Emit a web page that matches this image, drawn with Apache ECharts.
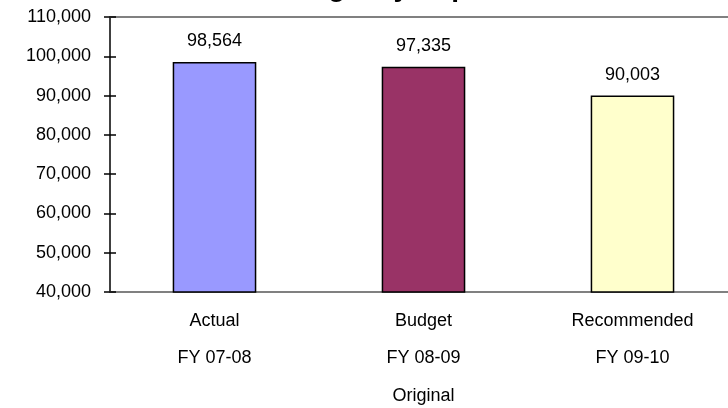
<!DOCTYPE html>
<html>
<head>
<meta charset="utf-8">
<script src="https://cdn.jsdelivr.net/npm/echarts@6/dist/echarts.min.js"></script>
<style>html,body{margin:0;padding:0;background:#fff;}#c{width:728px;height:408px;}</style>
</head>
<body>
<div id="c"></div>
<script>
const titleText = 'Agency Expenditures';
const categories = ['Actual\nFY 07-08', 'Budget\nFY 08-09\nOriginal', 'Recommended\nFY 09-10'];
const values = [98564, 97335, 90003];
const barColors = ['#9999FF', '#993366', '#FFFFCC'];
const yMin = 40000, yMax = 110000, yStep = 10000;

const chart = echarts.init(document.getElementById('c'), null, {renderer: 'canvas'});
const font = 'Arial, "Liberation Sans", sans-serif';
const fs = 18;
chart.setOption({
  animation: false,
  backgroundColor: '#ffffff',
  graphic: [{
    type: 'text', left: 308, top: -26,
    style: {text: titleText, font: 'bold 28px ' + font, fill: '#000'}
  }],
  grid: {left: 110, right: -9, top: 17, bottom: 116, outerBoundsMode: 'none', containLabel: false},
  xAxis: [{
    type: 'category', data: categories, position: 'bottom',
    axisLine: {show: true, lineStyle: {color: '#808080', width: 2}},
    axisTick: {show: false},
    axisLabel: {interval: 0, color: '#000', fontFamily: font, fontSize: fs, lineHeight: 37.5, margin: 10}
  }, {
    type: 'category', data: categories, position: 'top',
    axisLine: {show: true, lineStyle: {color: '#808080', width: 2}},
    axisTick: {show: false}, axisLabel: {show: false}
  }],
  yAxis: [{
    type: 'value', min: yMin, max: yMax, interval: yStep,
    axisLine: {show: true, lineStyle: {color: '#000', width: 1.5}},
    axisTick: {show: true, length: 6, lineStyle: {color: '#000', width: 1.5}},
    splitLine: {show: false},
    axisLabel: {color: '#000', fontFamily: font, fontSize: fs, margin: 19,
      formatter: v => v.toLocaleString('en-US')}
  }, {
    type: 'value', min: yMin, max: yMax, interval: yStep, position: 'left', offset: 0,
    axisLine: {show: false},
    axisTick: {show: true, inside: true, length: 6, lineStyle: {color: '#000', width: 1.5}},
    splitLine: {show: false}, axisLabel: {show: false}
  }],
  series: [{
    type: 'bar', xAxisIndex: 0, yAxisIndex: 0, barWidth: '40%',
    data: values.map((v, i) => ({value: v, itemStyle: {color: barColors[i]}})),
    itemStyle: {borderColor: '#000', borderWidth: 1.5},
    label: {show: true, position: 'top', distance: 12, color: '#000', fontFamily: font, fontSize: fs,
      formatter: p => p.value.toLocaleString('en-US')}
  }]
});
</script>
</body>
</html>
